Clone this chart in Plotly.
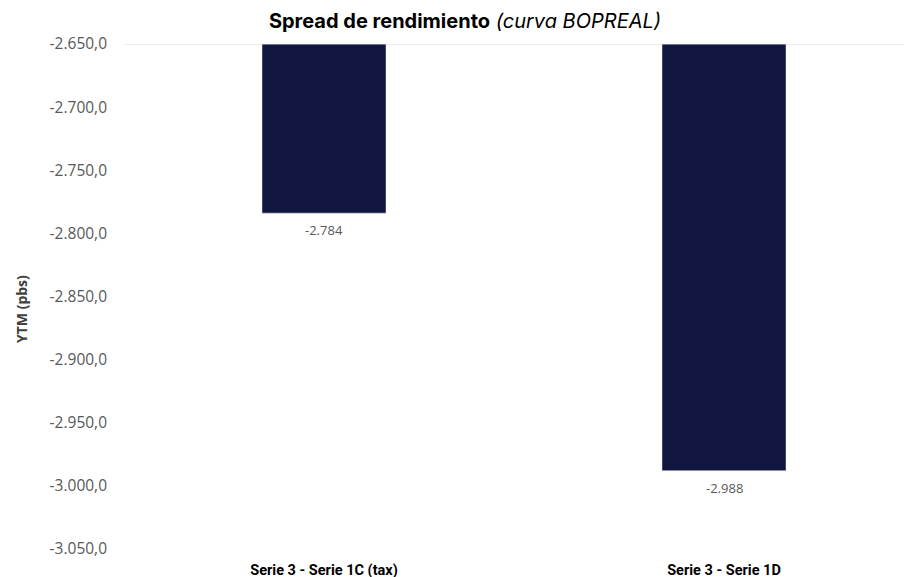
import plotly.graph_objects as go

categories = ["Serie 3 - Serie 1C (tax)", "Serie 3 - Serie 1D"]
spread = [-2784, -2988]
y_ticks = [-2650, -2700, -2750, -2800, -2850, -2900, -2950, -3000, -3050]


def es_fmt(v, dec=0):
    # 1.234,5 style, plain hyphen for the sign
    s = f"{v:,.{dec}f}"
    return s.replace(",", "X").replace(".", ",").replace("X", ".")


fig = go.Figure(
    data=[go.Bar(
        x=categories,
        y=spread,
        marker_color="#111641",
        width=0.31,
        hoverinfo="x+y",
    )]
)

# value labels under the bar ends
labels = [
    dict(x=c, y=v, text=es_fmt(v), showarrow=False, yshift=-17,
         font=dict(family="Open Sans", size=13, color="#595959"))
    for c, v in zip(categories, spread)
]

# page body adds 8px, so the figure is drawn 904x569
fig.update_layout(
    width=904,
    height=569,
    margin=dict(l=116, r=0, t=36, b=28),
    plot_bgcolor="white",
    paper_bgcolor="white",
    showlegend=False,
    title=dict(
        text="<b>Spread de rendimiento</b> <i>(curva BOPREAL)</i>",
        x=0.5055, xanchor="center", y=0.978, yanchor="middle",
        font=dict(family="Inter", size=20, color="black"),
    ),
    xaxis=dict(
        range=[-0.5, 1.47],
        showgrid=False,
        showline=False,
        automargin=False,
        tickvals=categories,
        ticktext=[f"<b>{c}</b>" for c in categories],
        tickfont=dict(family="Roboto", size=14.5, color="black"),
        ticklabelstandoff=10,
    ),
    yaxis=dict(
        range=[-3050, -2650],
        tickvals=y_ticks,
        ticktext=[es_fmt(t, 1) for t in y_ticks],
        showgrid=False,
        zeroline=False,
        automargin=False,
        tickfont=dict(family="Open Sans", size=15.5, color="#595959"),
        ticklabelstandoff=16,
    ),
    annotations=labels + [dict(
        text="<b>YTM (pbs)</b>", textangle=-90, showarrow=False,
        xref="paper", yref="paper", x=-0.1307, y=0.4752,
        xanchor="center", yanchor="middle",
        font=dict(family="Open Sans", size=14, color="#404040"),
    )],
    shapes=[dict(
        type="line", xref="paper", yref="y",
        x0=0, x1=1, y0=y_ticks[0], y1=y_ticks[0],
        line=dict(color="#d9d9d9", width=1),
    )],
)

fig.write_html("out.html")
